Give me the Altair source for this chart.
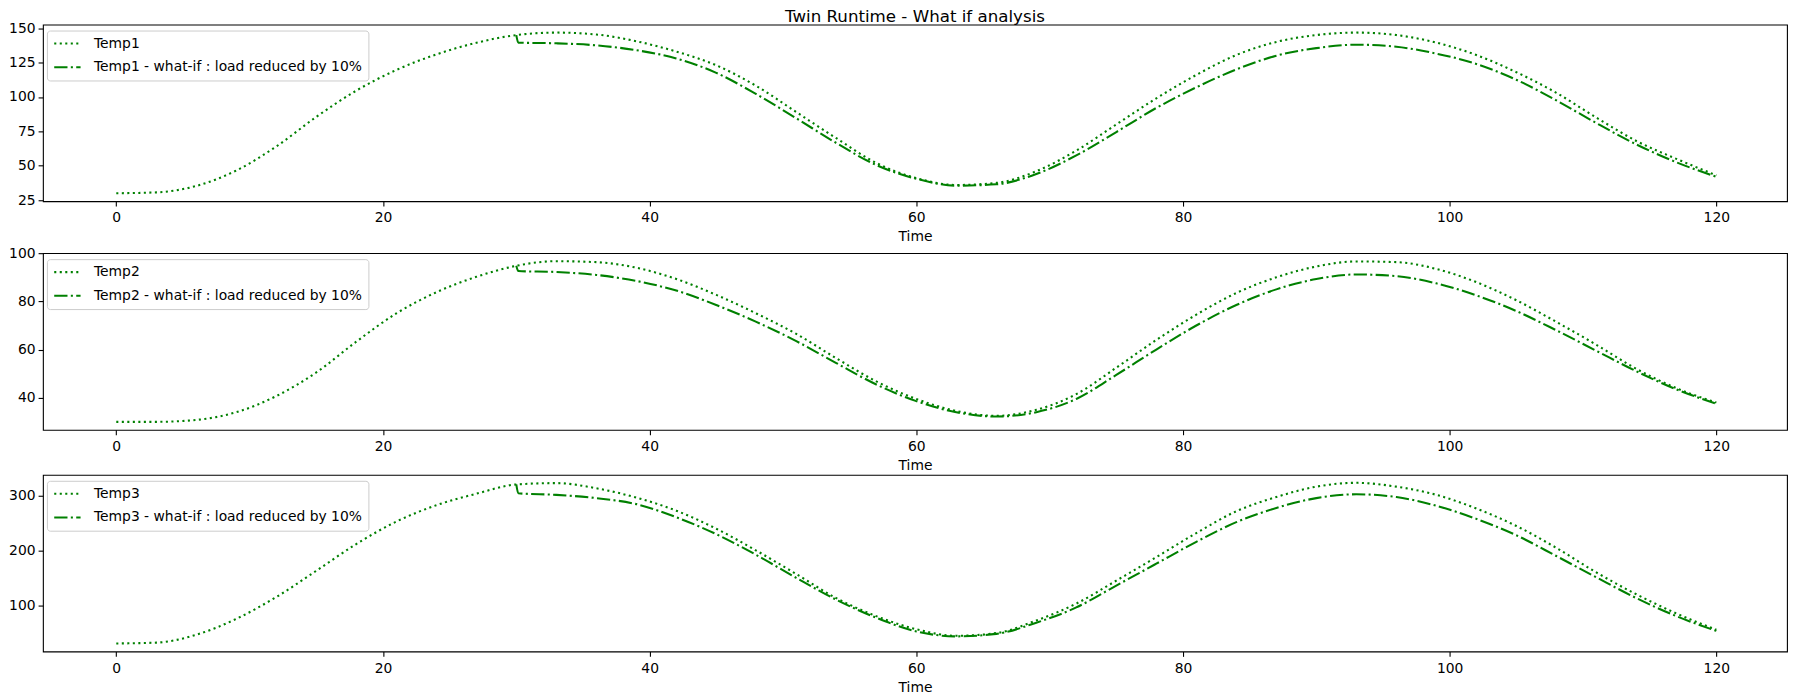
import altair as alt
import pandas as pd

# ---------------- data ----------------
TIME = [0, 3, 6, 9, 12, 15, 18, 21, 24, 27, 30, 33, 36, 39, 42, 45, 48, 51, 54, 57,
        60, 63, 66, 69, 72, 75, 78, 81, 84, 87, 90, 93, 96, 99, 102, 105, 108, 111,
        114, 117, 120]
WHATIF_TIME = [30, 30.15, 33, 36, 39, 42, 45, 48, 51, 54, 57, 60, 63, 66, 69, 72, 75,
               78, 81, 84, 87, 90, 93, 96, 99, 102, 105, 108, 111, 114, 117, 120]

TEMP1 = [30, 30.6, 35.3, 46.5, 64, 85.5, 104.6, 119.6, 130.9, 139.4, 145, 146.8, 145.4,
         140.5, 133, 123, 108, 89, 70, 52, 41, 36, 37.5, 46, 61, 80, 99, 116, 130.5,
         140, 145, 146.8, 145, 139.5, 130.5, 118, 103, 85, 68, 55, 43]
TEMP1_WHATIF = [145, 139.5, 139, 137.5, 134, 128, 117.5, 102, 84.5, 66.5, 50.5, 40.5,
                35.5, 36.5, 44, 57.5, 74.5, 92, 107, 120, 130, 135.5, 138, 136.5, 131.5,
                124, 112.5, 97.5, 81, 65.5, 52.5, 42]

TEMP2 = [30, 30, 30.8, 34, 40.7, 50.5, 63.3, 75, 83.8, 90.2, 94.8, 96.7, 96.3, 94, 89.3,
         82.7, 75, 66.5, 56.4, 46.8, 39.5, 34.5, 32.5, 35, 41.5, 52.5, 64, 74.5, 83.5,
         90, 94.5, 96.6, 96.3, 93.5, 88, 80.5, 71.5, 62, 52, 44, 38]
TEMP2_WHATIF = [94.8, 92.6, 92.2, 91, 88.5, 84.5, 78.5, 71.5, 63.5, 54.4, 45.5, 38.6,
                34, 32.2, 34, 39.5, 49.5, 60, 70, 78.5, 85, 89.3, 91.2, 90.5, 87.5, 82.5,
                76, 68, 59.5, 51, 43.5, 37.5]

TEMP3 = [30, 31.5, 46, 75, 115, 163, 212, 253, 283, 304, 321, 323.5, 314, 297, 273,
         240, 200, 157, 113, 80, 56, 44, 49, 72, 103, 145, 188, 232, 272, 298, 317, 324,
         317, 302, 277, 245, 205, 160, 120, 85, 55]
TEMP3_WHATIF = [321, 304.8, 302, 296, 285, 261, 230, 192, 150, 110, 77, 52, 43, 47.5,
                68, 96, 136, 176, 216, 252, 278, 296, 303, 298, 282, 258, 228, 190, 151,
                113, 80, 53]

NAMES = ["Temp1", "Temp2", "Temp3"]
WHATIF_SUFFIX = " - what-if : load reduced by 10%"
X_TICKS = [0, 20, 40, 60, 80, 100, 120]
Y_TICKS = [[25, 50, 75, 100, 125, 150], [40, 60, 80, 100], [100, 200, 300]]
TITLE = "Twin Runtime - What if analysis"

# ---------------- styling ----------------
GREEN = "#008000"
FONT = "DejaVu Sans"
W, H = 1747, 177
X_DOMAIN = [-5.5, 125.3]
LW = 2.08
DOTTED = [2.08, 3.44]
DASHDOT = [13.3, 3.33, 2.08, 3.33]
LEGEND_SYMBOL = "M-0.95,0H3.45"


def panel(name, base, whatif, yticks):
    wi_name = name + WHATIF_SUFFIX
    rows = []
    for i, (t, v) in enumerate(zip(TIME, base)):
        rows.append({"Time": t, "value": v, "series": name, "ord": i})
    for i, (t, v) in enumerate(zip(WHATIF_TIME, whatif)):
        rows.append({"Time": t, "value": v, "series": wi_name, "ord": i})
    df = pd.DataFrame(rows)
    lo = min(base + whatif)
    hi = max(base + whatif)
    pad = 0.05 * (hi - lo)
    return alt.Chart(df).mark_line(
        color=GREEN, strokeWidth=LW, interpolate="monotone", strokeCap="butt"
    ).encode(
        x=alt.X("Time:Q",
                scale=alt.Scale(domain=X_DOMAIN, nice=False, zero=False),
                axis=alt.Axis(values=X_TICKS, format="d", title="Time")),
        y=alt.Y("value:Q",
                scale=alt.Scale(domain=[lo - pad, hi + pad], nice=False, zero=False),
                axis=alt.Axis(values=yticks, format="d", title=None)),
        strokeDash=alt.StrokeDash(
            "series:N",
            scale=alt.Scale(domain=[name, wi_name], range=[DOTTED, DASHDOT]),
            legend=alt.Legend(
                title=None, orient="none", legendX=4, legendY=6,
                symbolType=LEGEND_SYMBOL, symbolSize=144, symbolStrokeWidth=LW,
                symbolStrokeColor=GREEN, symbolFillColor="transparent",
                labelFont=FONT, labelFontSize=13.9,
                labelColor="black", labelOffset=26.6, labelLimit=500,
                fillColor="rgba(255,255,255,0.8)", strokeColor="#cccccc",
                cornerRadius=3, padding=5.5, rowPadding=8.7,
            ),
        ),
        order=alt.Order("ord:Q"),
    ).properties(width=W, height=H)


p1 = panel(NAMES[0], TEMP1, TEMP1_WHATIF, Y_TICKS[0]).properties(
    title=alt.TitleParams(TITLE, anchor="middle"))
p2 = panel(NAMES[1], TEMP2, TEMP2_WHATIF, Y_TICKS[1])
p3 = panel(NAMES[2], TEMP3, TEMP3_WHATIF, Y_TICKS[2])

chart = alt.vconcat(p1, p2, p3, spacing=0).resolve_scale(
    strokeDash="independent", y="independent"
).resolve_legend(strokeDash="independent").properties(
    padding={"left": 0, "top": 0, "right": 4, "bottom": 0}
).configure(font=FONT, background="white").configure_view(
    stroke="black", strokeWidth=1.1
).configure_axis(
    domain=False, grid=False, tickColor="black", tickWidth=1.1, tickSize=4.86,
    labelFont=FONT, labelFontSize=13.9, labelColor="black", labelPadding=4.86,
    titleFont=FONT, titleFontSize=13.9, titleFontWeight="normal",
    titleColor="black", titlePadding=5,
).configure_axisY(labelPadding=3).configure_title(
    font=FONT, fontSize=16.7, fontWeight="normal", color="black", offset=-5
)

chart.save("out.html", embed_options={"renderer": "svg", "actions": False})
